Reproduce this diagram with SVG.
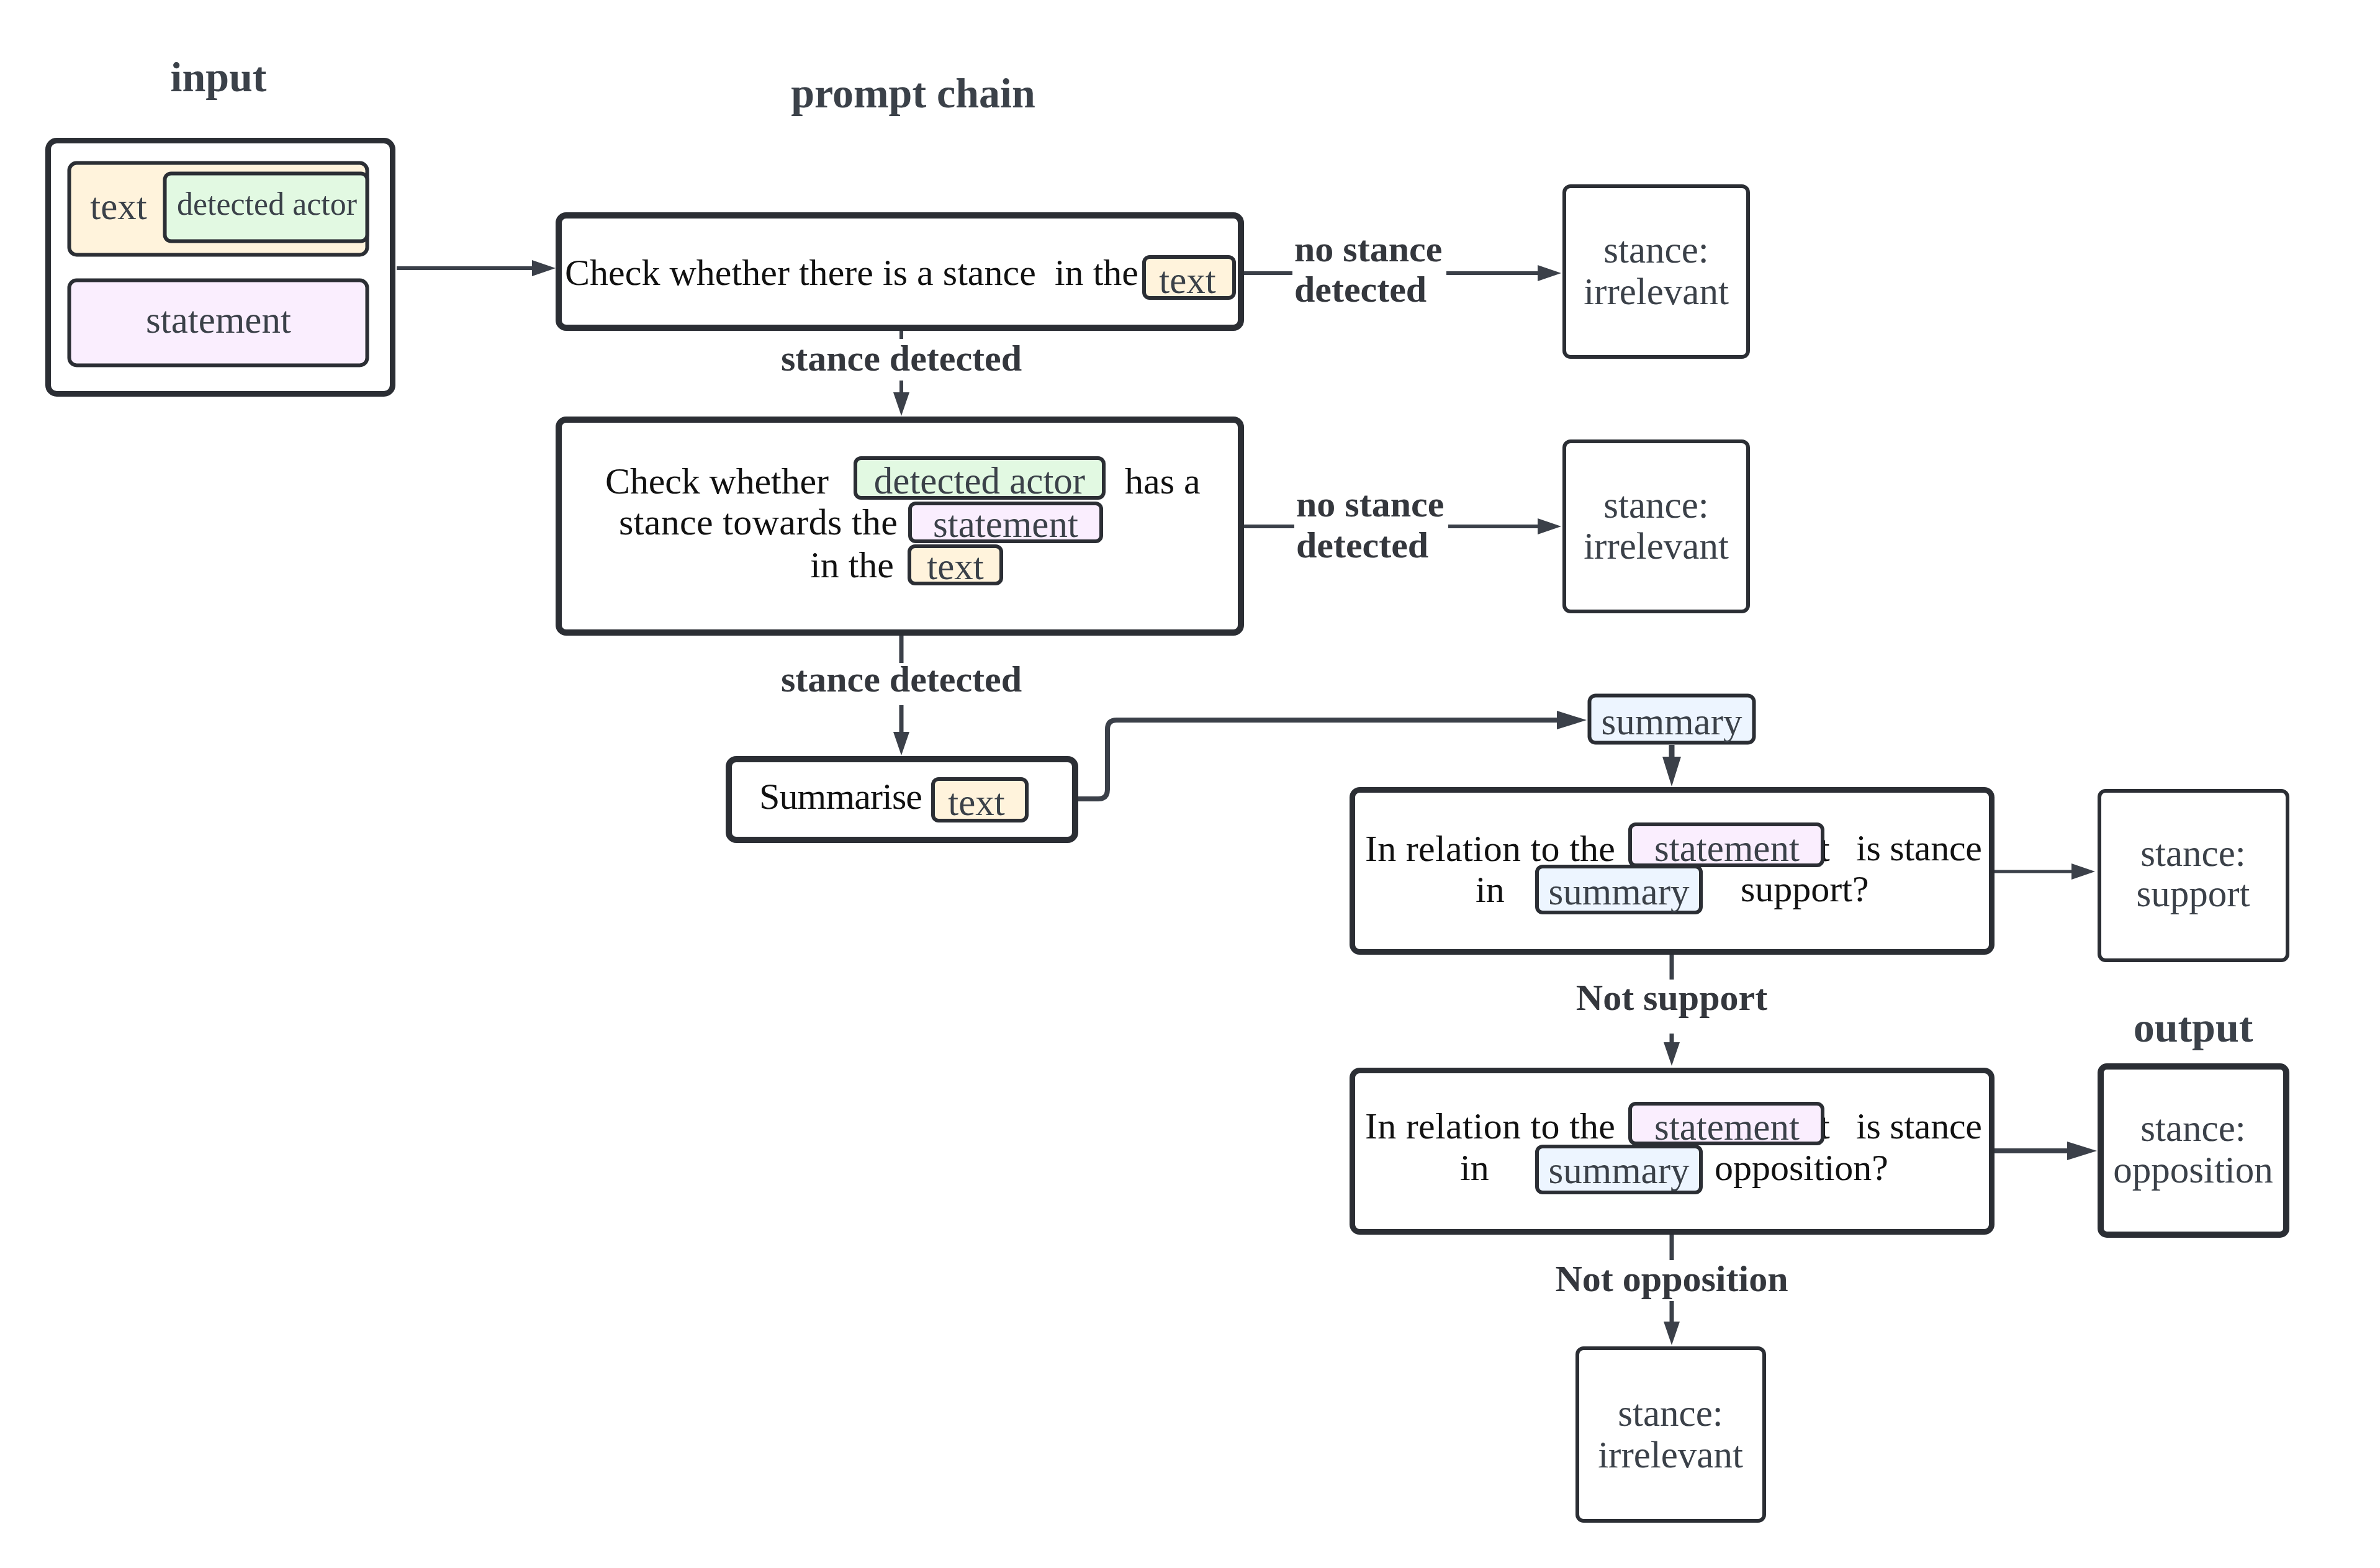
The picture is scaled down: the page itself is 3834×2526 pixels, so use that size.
<svg xmlns="http://www.w3.org/2000/svg" width="3834" height="2526" viewBox="0 0 3834 2526">
<defs>
<style>
.bg{fill:#ffffff}
.box{fill:#ffffff;stroke:#2b2e34}
.pt{font-family:"Liberation Serif","Times New Roman",serif;font-size:60px;fill:#111111;white-space:pre}
.lb{font-family:"Liberation Serif","Times New Roman",serif;font-size:61px;fill:#3b4149;text-anchor:middle}
.bl{font-family:"Liberation Serif","Times New Roman",serif;font-size:60px;font-weight:bold;fill:#34373d}
.ttl{font-family:"Liberation Serif","Times New Roman",serif;font-size:68px;font-weight:bold;fill:#3b4149;text-anchor:middle}
.yel{fill:#fff3dc;stroke:#2b2e34;stroke-width:6}
.grn{fill:#e2f9e2;stroke:#2b2e34;stroke-width:6}
.pur{fill:#faeefe;stroke:#2b2e34;stroke-width:6}
.blu{fill:#edf5ff;stroke:#2b2e34;stroke-width:6}
.cn{fill:none;stroke:#3b4049;stroke-linecap:butt;stroke-linejoin:round}
</style>
<marker id="ah" markerUnits="userSpaceOnUse" markerWidth="38" markerHeight="26" refX="2" refY="13" orient="auto">
<path d="M0,0 L38,13 L0,26 Z" fill="#3b4049"/>
</marker>
<marker id="ahL" markerUnits="userSpaceOnUse" markerWidth="48" markerHeight="30" refX="2" refY="15" orient="auto">
<path d="M0,0 L48,15 L0,30 Z" fill="#3b4049"/>
</marker>
</defs>
<rect class="bg" x="0" y="0" width="3834" height="2526"/>

<g id="titles">
<text class="ttl" x="352" y="147">input</text>
<text class="ttl" x="1471" y="173">prompt chain</text>
<text class="ttl" x="3533" y="1678">output</text>
</g>

<g id="connectors">
<path class="cn" d="M639,432 H859" stroke-width="6" marker-end="url(#ah)"/>
<path class="cn" d="M2004,440 H2082" stroke-width="6"/>
<path class="cn" d="M2330,440 H2479" stroke-width="6" marker-end="url(#ah)"/>
<path class="cn" d="M1452,533 V546" stroke-width="6"/>
<path class="cn" d="M1452,613 V634" stroke-width="6" marker-end="url(#ah)"/>
<path class="cn" d="M2004,848 H2085" stroke-width="6"/>
<path class="cn" d="M2333,848 H2479" stroke-width="6" marker-end="url(#ah)"/>
<path class="cn" d="M1452,1024 V1068" stroke-width="7"/>
<path class="cn" d="M1452,1136 V1181" stroke-width="7" marker-end="url(#ah)"/>
<path class="cn" d="M1737,1287 H1769 Q1784,1287 1784,1272 V1175 Q1784,1160 1799,1160 H2510" stroke-width="8" marker-end="url(#ahL)"/>
<path class="cn" d="M2693,1200 V1221" stroke-width="9" marker-end="url(#ahL)"/>
<path class="cn" d="M3213,1404 H3339" stroke-width="5" marker-end="url(#ah)"/>
<path class="cn" d="M2693,1538 V1578" stroke-width="7"/>
<path class="cn" d="M2693,1665 V1681" stroke-width="7" marker-end="url(#ah)"/>
<path class="cn" d="M3213,1854 H3332" stroke-width="8" marker-end="url(#ahL)"/>
<path class="cn" d="M2693,1989 V2030" stroke-width="7"/>
<path class="cn" d="M2693,2096 V2131" stroke-width="7" marker-end="url(#ah)"/>
</g>

<g id="connector-labels">
<text class="bl" x="1452" y="597" text-anchor="middle">stance detected</text>
<text class="bl" x="1452" y="1114" text-anchor="middle">stance detected</text>
<text class="bl" x="2085" y="421">no stance</text>
<text class="bl" x="2085" y="486">detected</text>
<text class="bl" x="2088" y="832">no stance</text>
<text class="bl" x="2088" y="898">detected</text>
<text class="bl" x="2693" y="1627" text-anchor="middle">Not support</text>
<text class="bl" x="2693" y="2080" text-anchor="middle">Not opposition</text>
</g>

<g id="input">
<rect class="box" x="77.5" y="226.5" width="555" height="408" rx="14" stroke-width="9"/>
<rect class="yel" x="111.5" y="262.5" width="480" height="148" rx="12" stroke-width="7"/>
<text class="lb" x="191" y="353">text</text>
<rect class="grn" x="265.5" y="279.5" width="326" height="109" rx="10" stroke-width="7"/>
<text class="lb" x="430" y="346" style="font-size:52px">detected actor</text>
<rect class="pur" x="111.5" y="451.5" width="480" height="137" rx="12" stroke-width="7"/>
<text class="lb" x="352" y="536">statement</text>
</g>

<g id="prompt1">
<rect class="box" x="900" y="347" width="1099" height="181" rx="12" stroke-width="10"/>
<text class="pt" x="910" y="459" textLength="924">Check whether there is a stance  in the</text>
<rect class="yel" x="1843" y="414" width="145" height="66" rx="9"/>
<text class="lb" x="1913" y="472">text</text>
</g>

<g id="irrelevant1">
<rect class="box" x="2520" y="300" width="296" height="275" rx="10" stroke-width="6"/>
<text class="lb" x="2668" y="423">stance:</text>
<text class="lb" x="2668" y="490">irrelevant</text>
</g>

<g id="prompt2">
<rect class="box" x="900" y="676" width="1099" height="343" rx="12" stroke-width="10"/>
<text class="pt" x="975" y="795" textLength="360">Check whether</text>
<rect class="grn" x="1378" y="738" width="400" height="64" rx="9"/>
<text class="lb" x="1578" y="795">detected actor</text>
<text class="pt" x="1812" y="795">has a</text>
<text class="pt" x="997" y="861" textLength="449">stance towards the</text>
<rect class="pur" x="1466" y="811" width="308" height="61" rx="9"/>
<text class="lb" x="1620" y="865">statement</text>
<text class="pt" x="1305" y="930">in the</text>
<rect class="yel" x="1465" y="880" width="148" height="60" rx="9"/>
<text class="lb" x="1539" y="933">text</text>
</g>

<g id="irrelevant2">
<rect class="box" x="2520" y="711" width="296" height="274" rx="10" stroke-width="6"/>
<text class="lb" x="2668" y="834">stance:</text>
<text class="lb" x="2668" y="900">irrelevant</text>
</g>

<g id="summarise">
<rect class="box" x="1174" y="1223" width="558" height="130" rx="12" stroke-width="10"/>
<text class="pt" x="1223" y="1303" textLength="263">Summarise</text>
<rect class="yel" x="1503" y="1255" width="151" height="67" rx="9"/>
<text class="lb" x="1573" y="1313">text</text>
</g>

<g id="summary">
<rect class="blu" x="2560.5" y="1120.5" width="265" height="76" rx="10" stroke-width="7"/>
<text class="lb" x="2693" y="1183">summary</text>
</g>

<g id="question-support">
<rect class="box" x="2178.5" y="1272.5" width="1030" height="261" rx="12" stroke-width="9"/>
<text class="pt" x="2199" y="1387" textLength="403">In relation to the</text>
<text class="pt" x="2931" y="1387">t</text>
<rect class="pur" x="2626" y="1328" width="310" height="66" rx="9"/>
<text class="lb" x="2782" y="1387">statement</text>
<text class="pt" x="2990" y="1386" textLength="203">is stance</text>
<text class="pt" x="2377" y="1453">in</text>
<rect class="blu" x="2476" y="1396" width="264" height="74" rx="9"/>
<text class="lb" x="2608" y="1457">summary</text>
<text class="pt" x="2804" y="1452">support?</text>
</g>

<g id="support">
<rect class="box" x="3382" y="1274" width="303" height="273" rx="10" stroke-width="6"/>
<text class="lb" x="3533" y="1395">stance:</text>
<text class="lb" x="3533" y="1460">support</text>
</g>

<g id="question-opposition">
<rect class="box" x="2178.5" y="1724.5" width="1030" height="260" rx="12" stroke-width="9"/>
<text class="pt" x="2199" y="1834" textLength="403">In relation to the</text>
<text class="pt" x="2931" y="1834">t</text>
<rect class="pur" x="2626" y="1778" width="310" height="64" rx="9"/>
<text class="lb" x="2782" y="1836">statement</text>
<text class="pt" x="2990" y="1834" textLength="203">is stance</text>
<text class="pt" x="2352" y="1901">in</text>
<rect class="blu" x="2476" y="1847" width="264" height="74" rx="9"/>
<text class="lb" x="2608" y="1906">summary</text>
<text class="pt" x="2762" y="1901">opposition?</text>
</g>

<g id="opposition">
<rect class="box" x="3384" y="1718" width="299" height="271" rx="10" stroke-width="10"/>
<text class="lb" x="3533" y="1838">stance:</text>
<text class="lb" x="3533" y="1905">opposition</text>
</g>

<g id="irrelevant3">
<rect class="box" x="2541" y="2172" width="301" height="278" rx="10" stroke-width="6"/>
<text class="lb" x="2691" y="2297">stance:</text>
<text class="lb" x="2691" y="2364">irrelevant</text>
</g>
</svg>
